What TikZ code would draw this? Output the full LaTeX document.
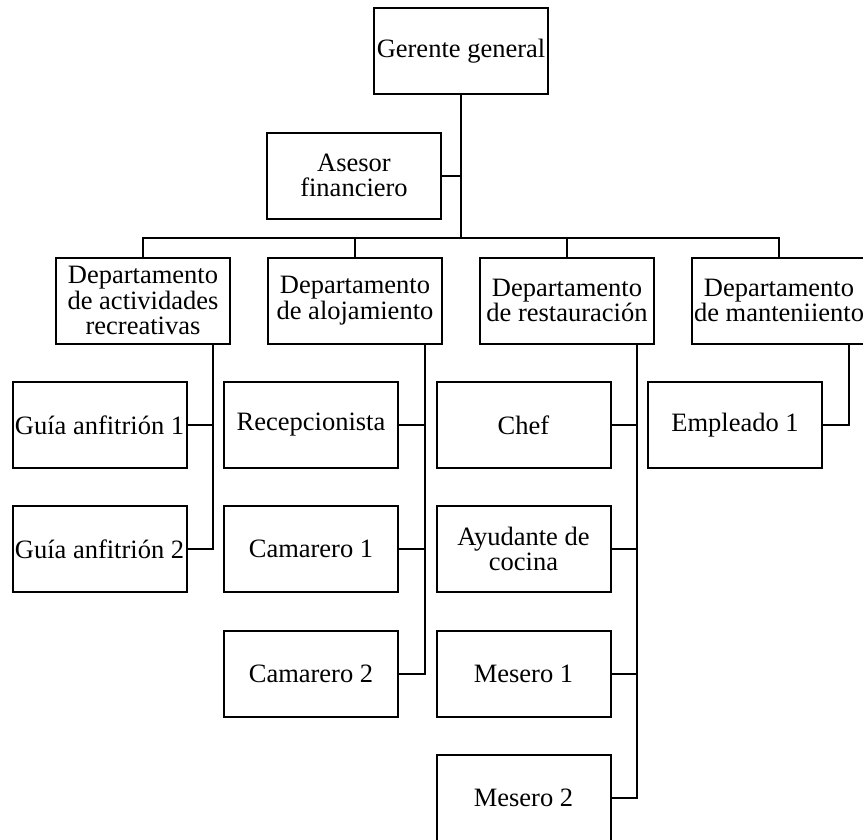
\documentclass[tikz,border=0pt]{standalone}
\usepackage{fontspec}
\setmainfont{Liberation Serif}
\begin{document}
\begin{tikzpicture}[x=1pt,y=-1pt]
		\tikzset{box/.style={draw, line width=2pt, minimum width=174pt, minimum height=86pt, inner sep=1pt, align=center, font=\fontsize{26.5}{25.7}\selectfont},
			link/.style={line width=2pt}}
		\useasboundingbox (0,0) rectangle (863,839);
		\node[box] (gg) at (461,51) {Gerente general};
		\node[box] (af) at (354,175.5) {Asesor\\financiero};
		\node[box] (d1) at (143,300.5) {Departamento\\de actividades\\recreativas};
		\node[box] (d2) at (355,300.5) {Departamento\\de alojamiento};
		\node[box] (d3) at (567,300.5) {Departamento\\de restauración};
		\node[box] (d4) at (779,300.5) {Departamento\\de manteniiento};
		\node[box] (ga1) at (99.5,425) {Guía anfitrión 1};
		\node[box] (ga2) at (99.5,549) {Guía anfitrión 2};
		\node[box] (rc) at (311,425) {Recepcionista};
		\node[box] (cm1) at (311,549) {Camarero 1};
		\node[box] (cm2) at (311,674) {Camarero 2};
		\node[box] (ch) at (523.5,425) {Chef};
		\node[box] (ay) at (523.5,549) {Ayudante de\\cocina};
		\node[box] (ms1) at (523.5,674) {Mesero 1};
		\node[box] (ms2) at (523.5,798) {Mesero 2};
		\node[box] (em) at (735,425) {Empleado 1};
		\coordinate (hub) at (461,238);
		\coordinate (v1) at ([xshift=-18pt]d1.south east);
		\coordinate (v2) at ([xshift=-18pt]d2.south east);
		\coordinate (v3) at ([xshift=-18pt]d3.south east);
		\coordinate (v4) at ([xshift=-18pt]d4.south east);
		% upper levels
		\draw[link] (gg.south) -- (hub);
		\draw[link] (af.east) -- (af.east -| hub);
		\draw[link] (d1.north) |- (hub) -| (d4.north);
		\draw[link] (d2.north) -- (d2.north |- hub);
		\draw[link] (d3.north) -- (d3.north |- hub);
		% departments
		\draw[link] (v1) |- (ga2.east);
		\draw[link] (ga1.east) -- (ga1.east -| v1);
		\draw[link] (v2) |- (cm2.east);
		\draw[link] (rc.east) -- (rc.east -| v2);
		\draw[link] (cm1.east) -- (cm1.east -| v2);
		\draw[link] (v3) |- (ms2.east);
		\draw[link] (ch.east) -- (ch.east -| v3);
		\draw[link] (ay.east) -- (ay.east -| v3);
		\draw[link] (ms1.east) -- (ms1.east -| v3);
		\draw[link] (v4) |- (em.east);
	\end{tikzpicture}
\end{document}
